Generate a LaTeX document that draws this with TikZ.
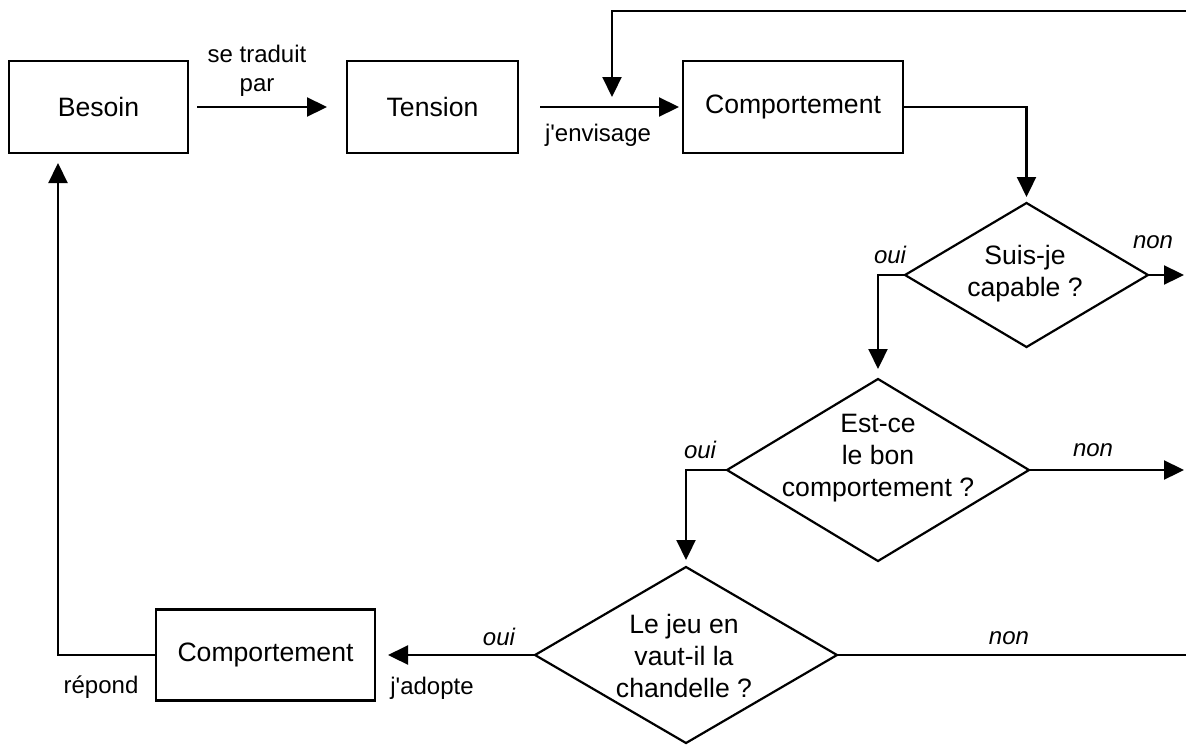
\documentclass[tikz,border=0pt]{standalone}
\usepackage{fontspec}
\setmainfont{Liberation Sans}
\usetikzlibrary{arrows.meta,shapes.geometric,calc}
\begin{document}
\begin{tikzpicture}[x=0.5pt,y=-0.5pt,
  line width=1.1pt,
  box/.style={draw, rectangle, inner sep=0pt, outer sep=0pt,
    font=\fontsize{13.3}{16}\selectfont},
  decision/.style={draw, diamond, inner sep=0pt, outer sep=0pt},
  dtext/.style={align=center, inner sep=0pt,
    font=\fontsize{13.3}{16}\selectfont},
  lbl/.style={inner sep=0pt, align=center,
    font=\fontsize{12}{14.5}\selectfont},
  ans/.style={inner sep=0pt, font=\fontsize{12}{14.5}\selectfont\itshape},
  arr/.style={-{Triangle[length=10pt,width=9.5pt]}},
]
\useasboundingbox (0,0) rectangle (1186,744);

% process boxes
\node[box, minimum width=89.5pt, minimum height=46pt]  (besoin)  at (98.5,107) {Besoin};
\node[box, minimum width=85.5pt, minimum height=46pt]  (tension) at (432.5,107) {Tension};
\node[box, minimum width=110pt,  minimum height=46pt]  (comp1)   at (793,107) {Comportement};
\node[box, minimum width=109.5pt, minimum height=45.5pt] (comp2) at (265.5,655) {Comportement};

% decisions
\node[decision, minimum width=121.5pt, minimum height=72pt] (d1) at (1026.5,275) {};
\node[dtext] (d1t) at (1025,274) {Suis-je\\capable ?};
\node[decision, minimum width=151pt, minimum height=91pt] (d2) at (878,470) {};
\node[dtext] (d2t) at (878,458) {Est-ce\\le bon\\comportement ?};
\node[decision, minimum width=151pt, minimum height=88pt] (d3) at (686,655) {};
\node[dtext] (d3t) at (684,656) {Le jeu en\\vaut-il la\\chandelle ?};

% free ends and junctions
\coordinate (fbin)  at (1186,11);
\coordinate (merge) at (612,107);
\coordinate (out1)  at (1184,275);
\coordinate (out2)  at (1184,470);
\coordinate (out3)  at (1186,655);

% connectors
\draw[arr, shorten <=4.5pt, shorten >=10pt] (besoin.east) -- (tension.west);
\draw[arr, shorten <=11pt, shorten >=2pt] (tension.east) -- (comp1.west);
\draw[arr, shorten >=5pt] (fbin) -| (merge);
\draw[arr, shorten >=3pt] (comp1.east) -| (d1.north);
\draw[arr] (d1.east) -- (out1);
\draw[arr, shorten >=5pt] (d1.west) -| (d2.north);
\draw[arr] (d2.east) -- (out2);
\draw[arr, shorten >=3.5pt] (d2.west) -| (d3.north);
\draw (d3.east) -- (out3);
\draw[arr, shorten >=6.5pt] (d3.west) -- (comp2.east);
\draw[arr, shorten >=5pt] (comp2.west) -| ($(besoin.south)+(-40.5,0)$);

% labels
\node[lbl] (l1) at (257,71) {se traduit\\par};
\node[lbl] (l2) at (598,135) {j\textquotesingle envisage};
\node[ans] (n1) at (1153,242) {non};
\node[ans] (o1) at (890,255) {oui};
\node[ans] (n2) at (1093,450) {non};
\node[ans] (o2) at (700,450) {oui};
\node[ans] (n3) at (1009,638) {non};
\node[ans] (o3) at (499,637) {oui};
\node[lbl] (l3) at (432,688) {j\textquotesingle adopte};
\node[lbl] (l4) at (101,687) {répond};
\end{tikzpicture}
\end{document}
